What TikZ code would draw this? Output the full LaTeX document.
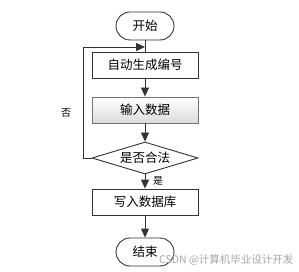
\documentclass[tikz,border=0pt]{standalone}
\usepackage{fontspec}
\newfontfamily\cjk{Noto Sans CJK SC}
\usetikzlibrary{arrows.meta,shapes.geometric}
\begin{document}
\begin{tikzpicture}[x=1pt,y=-1pt,
  font=\cjk\fontsize{12.5}{14}\selectfont,
  box/.style={draw=black!80, line width=0.9pt, minimum width=106pt, minimum height=26pt, inner sep=0pt, fill=white},
  shadebox/.style={box, draw=black!55, top color=white, bottom color=black!14},
  term/.style={draw=black!80, line width=0.9pt, minimum width=58pt, minimum height=28pt, rounded corners=14pt, inner sep=0pt, fill=white},
  dec/.style={draw=black!80, line width=0.9pt, diamond, aspect=3.3, minimum width=106pt, minimum height=32pt, inner sep=0pt, fill=white},
  line/.style={draw=black!80, line width=0.9pt},
  arr/.style={line, -{Triangle[length=9pt,width=8pt]}},
  lbl/.style={font=\cjk\fontsize{10}{12}\selectfont}]
\useasboundingbox (0,0) rectangle (299,272);
\node[term] (start) at (145,26) {开始};
\node[box] (b1) at (145,65) {自动生成编号};
\node[shadebox] (b2) at (145,110) {输入数据};
\node[dec] (dia) at (145,158) {是否合法};
\node[box] (b3) at (145,202) {写入数据库};
\node[term] (end) at (145,252) {结束};
\coordinate (j) at (145,47);
\coordinate (lp) at (83,158);
\draw[line] (start) -- (b1);
\draw[arr] (b1) -- (b2);
\draw[arr] (b2) -- (dia);
\draw[arr] (dia) -- (b3);
\draw[arr] (b3) -- (end);
\draw[arr] (dia.west) -- (lp) |- (j);
\node[lbl] (no) at (66,113) {否};
\node[lbl] (yes) at (158,181) {是};
\node[anchor=east, text=black!35, font=\cjk\fontsize{10.5}{12}\selectfont] (wm) at (297,260) {CSDN @计算机毕业设计开发};
\end{tikzpicture}
\end{document}
